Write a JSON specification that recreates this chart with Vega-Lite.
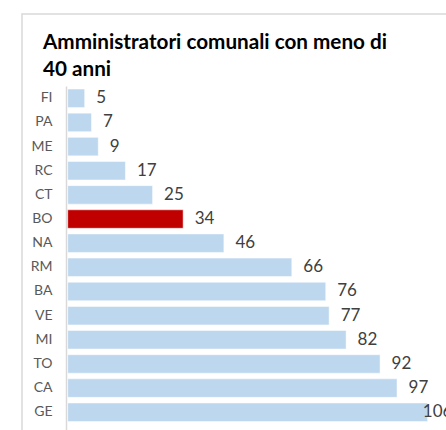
{
  "$schema": "https://vega.github.io/schema/vega-lite/v6.json",
  "autosize": {"type": "none"},
  "width": 430,
  "height": 420,
  "padding": {"left": 22, "top": 14, "right": 0, "bottom": 0},
  "background": "white",
  "config": {
    "view": {"stroke": "#d9d9d9", "strokeWidth": 1.5},
    "font": "Lato"
  },
  "title": {
    "text": ["Amministratori comunali con meno di", "40 anni"],
    "anchor": "start",
    "frame": "group",
    "orient": "top",
    "offset": -67,
    "dx": 21,
    "font": "Lato",
    "fontSize": 20.7,
    "fontWeight": "bold",
    "color": "#000000",
    "lineHeight": 27
  },
  "data": {
    "values": [
      {"citta": "FI", "valore": 5, "evidenza": "no"},
      {"citta": "PA", "valore": 7, "evidenza": "no"},
      {"citta": "ME", "valore": 9, "evidenza": "no"},
      {"citta": "RC", "valore": 17, "evidenza": "no"},
      {"citta": "CT", "valore": 25, "evidenza": "no"},
      {"citta": "BO", "valore": 34, "evidenza": "si"},
      {"citta": "NA", "valore": 46, "evidenza": "no"},
      {"citta": "RM", "valore": 66, "evidenza": "no"},
      {"citta": "BA", "valore": 76, "evidenza": "no"},
      {"citta": "VE", "valore": 77, "evidenza": "no"},
      {"citta": "MI", "valore": 82, "evidenza": "no"},
      {"citta": "TO", "valore": 92, "evidenza": "no"},
      {"citta": "CA", "valore": 97, "evidenza": "no"},
      {"citta": "GE", "valore": 106, "evidenza": "no"}
    ]
  },
  "encoding": {
    "y": {
      "field": "citta",
      "type": "nominal",
      "sort": null,
      "scale": {"range": [72, 430], "paddingInner": 0.234, "paddingOuter": 0.529, "align": 0.119, "round": false},
      "axis": {
        "title": null,
        "offset": -44,
        "domain": true,
        "domainColor": "#d9d9d9",
        "domainWidth": 1.5,
        "ticks": false,
        "labelPadding": 14,
        "labelFont": "Lato",
        "labelFontSize": 14,
        "labelColor": "#595959"
      }
    }
  },
  "layer": [
    {
      "mark": {"type": "bar", "stroke": "#ffffff", "strokeWidth": 0.5},
      "encoding": {
        "x": {
          "field": "valore",
          "type": "quantitative",
          "scale": {"domain": [0, 106], "range": [45.7, 405.6], "nice": false, "zero": true},
          "axis": null
        },
        "color": {
          "field": "evidenza",
          "type": "nominal",
          "scale": {"domain": ["no", "si"], "range": ["#bdd7ee", "#c00000"]},
          "legend": null
        }
      }
    },
    {
      "mark": {"type": "text", "align": "left", "baseline": "middle", "dx": 11.5, "font": "Lato", "fontSize": 17, "color": "#404040"},
      "encoding": {
        "x": {
          "field": "valore",
          "type": "quantitative",
          "scale": {"domain": [0, 101.2], "range": [45.7, 389.3], "nice": false, "zero": true, "clamp": true},
          "axis": null
        },
        "text": {"field": "valore", "type": "quantitative"}
      }
    }
  ],
  "resolve": {"scale": {"x": "independent"}}
}
